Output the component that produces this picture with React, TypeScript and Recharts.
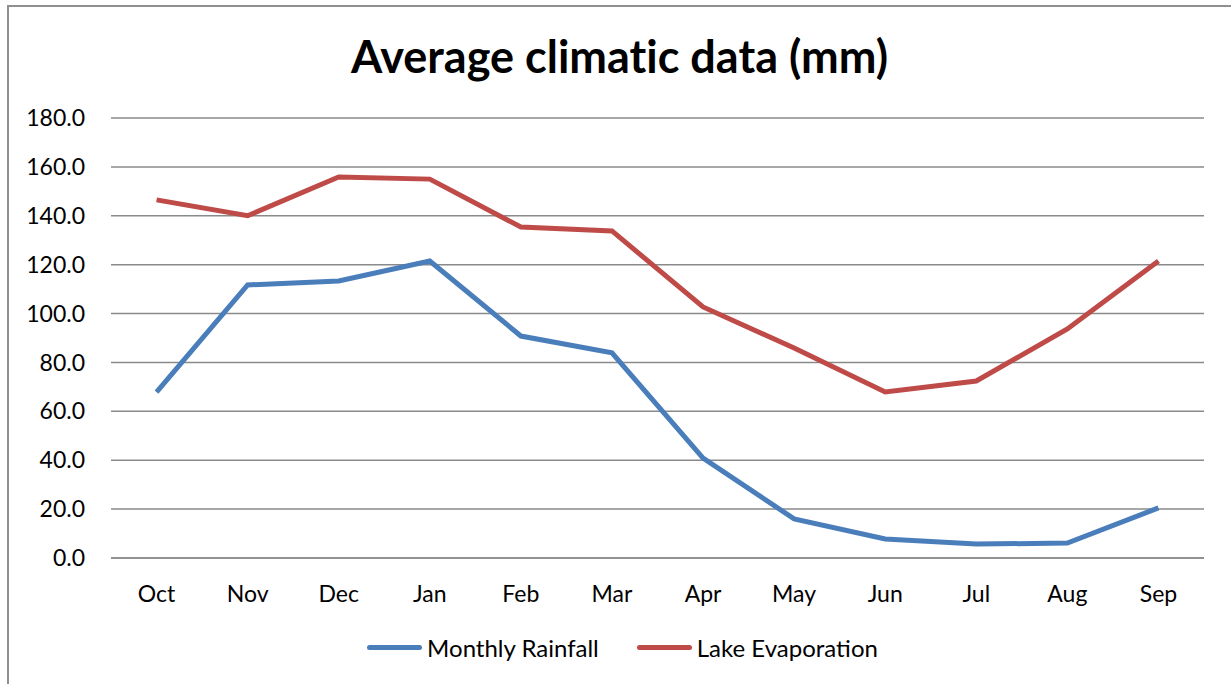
import { LineChart, Line, XAxis, YAxis, CartesianGrid, Legend } from 'recharts';

const months = ['Oct', 'Nov', 'Dec', 'Jan', 'Feb', 'Mar', 'Apr', 'May', 'Jun', 'Jul', 'Aug', 'Sep'];
const monthlyRainfall = [67.9, 111.7, 113.3, 121.5, 90.8, 83.9, 40.9, 16.0, 7.8, 5.7, 6.1, 20.5];
const lakeEvaporation = [146.5, 140.0, 155.9, 155.0, 135.4, 133.8, 102.7, 85.9, 67.9, 72.4, 93.7, 121.5];
const yTicks = [0, 20, 40, 60, 80, 100, 120, 140, 160, 180];

const series = [
  { key: 'rain', name: 'Monthly Rainfall', color: '#4A7EBB' },
  { key: 'evap', name: 'Lake Evaporation', color: '#BE4B48' },
];

const FONT = 'Lato, "Open Sans", sans-serif';
const PLOT_W = 1231 - 111 - 27;
const HALF_BAND = PLOT_W / months.length / 2;

const data = months.map((m, i) => ({
  month: m,
  rain: monthlyRainfall[i],
  evap: lakeEvaporation[i],
}));

function LegendRow() {
  return (
    <div
      style={{
        display: 'flex',
        justifyContent: 'center',
        alignItems: 'center',
        fontFamily: FONT,
        fontSize: 24,
        color: '#000',
        paddingLeft: 14,
      }}
    >
      {series.map((s, i) => (
        <div key={s.key} style={{ display: 'flex', alignItems: 'center', marginLeft: i === 0 ? 0 : 38 }}>
          <div style={{ width: 55, height: 5, borderRadius: 3, background: s.color, marginRight: 5 }} />
          <span>{s.name}</span>
        </div>
      ))}
    </div>
  );
}

export default function App() {
  return (
    <div style={{ position: 'absolute', left: 0, top: 0, width: 1231, height: 684, overflow: 'hidden', background: '#fff' }}>
      <div
        style={{
          position: 'absolute',
          left: 7,
          top: 5,
          width: 1300,
          height: 800,
          borderTop: '2px solid #8f8f8f',
          borderLeft: '2px solid #8f8f8f',
        }}
      />
      <div
        style={{
          position: 'absolute',
          left: 8,
          top: 26,
          width: 1223,
          textAlign: 'center',
          fontFamily: FONT,
          fontWeight: 700,
          fontSize: 45,
          lineHeight: '60px',
          fontVariantLigatures: 'none',
          color: '#000',
        }}
      >
        Average climatic data (mm)
      </div>
      <div style={{ position: 'absolute', left: 0, top: 0 }}>
        <LineChart width={1231} height={684} data={data} margin={{ top: 118, right: 27, bottom: 86, left: 0 }}>
          <CartesianGrid vertical={false} stroke="#8a8a8a" strokeWidth={1.5} />
          <XAxis
            dataKey="month"
            height={40}
            padding={{ left: HALF_BAND, right: HALF_BAND }}
            axisLine={{ stroke: '#8a8a8a', strokeWidth: 1.5 }}
            tickLine={false}
            tickMargin={22}
            tick={{ fill: '#000', fontSize: 23, fontFamily: FONT }}
          />
          <YAxis
            width={111}
            domain={[0, 180]}
            ticks={yTicks}
            axisLine={false}
            tickLine={false}
            tickMargin={20}
            tickFormatter={(v: number) => v.toFixed(1)}
            tick={{ fill: '#000', fontSize: 23, fontFamily: FONT }}
          />
          {series.map((s) => (
            <Line
              key={s.key}
              type="linear"
              dataKey={s.key}
              name={s.name}
              stroke={s.color}
              strokeWidth={5}
              dot={false}
              activeDot={false}
              isAnimationActive={false}
            />
          ))}
          <Legend
            verticalAlign="middle"
            align="center"
            content={() => <LegendRow />}
            wrapperStyle={{ top: 633, left: 0, width: 1231, height: 32 }}
          />
        </LineChart>
      </div>
    </div>
  );
}
